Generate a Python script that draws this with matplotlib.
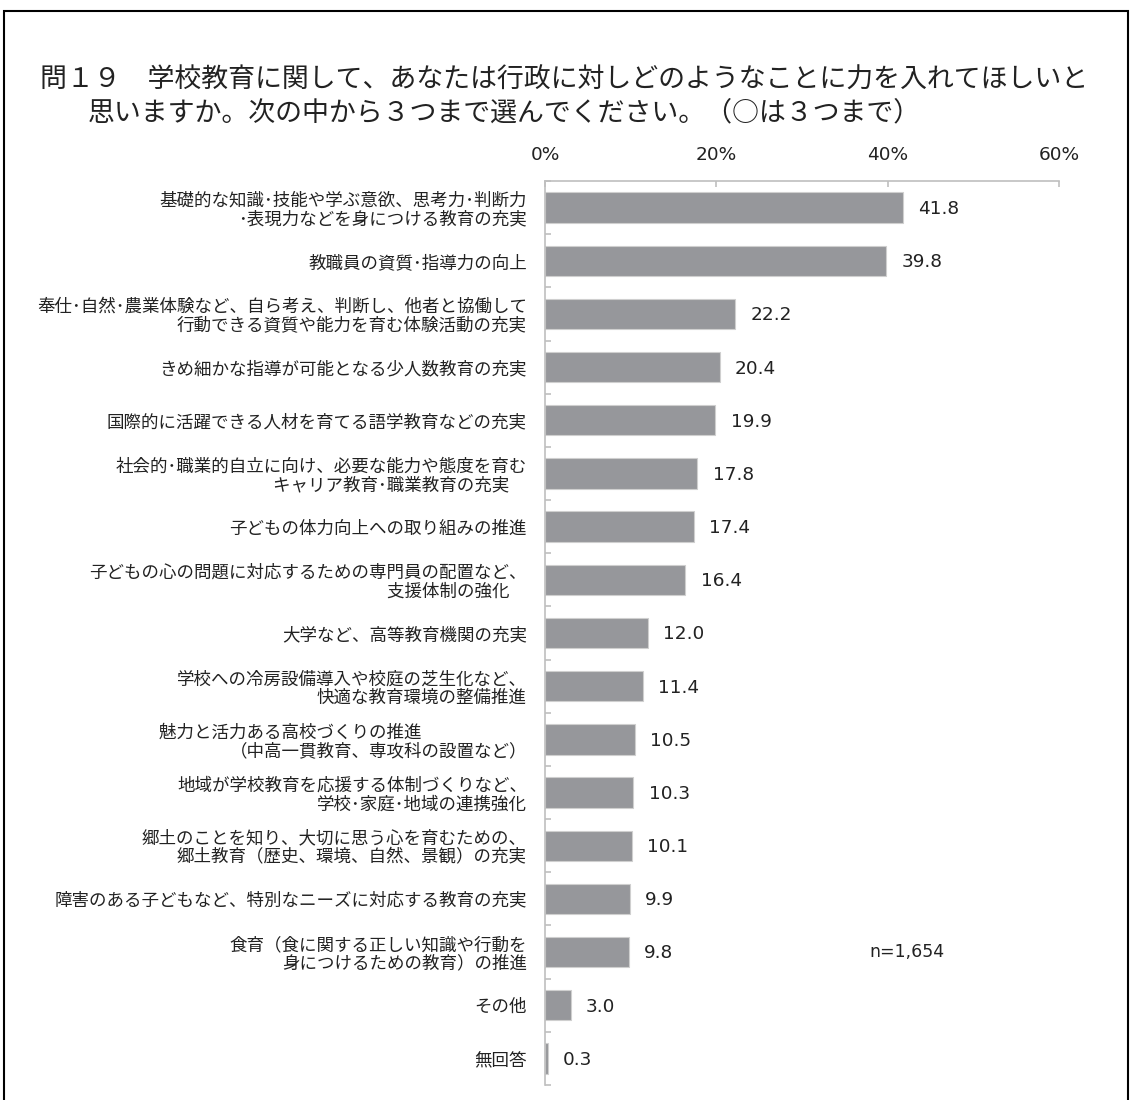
import matplotlib
matplotlib.use('Agg')
import matplotlib.pyplot as plt
import matplotlib.patches as ptc
import numpy as np

plt.rcParams['font.family'] = ['Noto Sans CJK JP', 'DejaVu Sans']

# survey answers, top to bottom
cats = ['基礎的な知識･技能や学ぶ意欲、思考力･判断力\n･表現力などを身につける教育の充実',
        '教職員の資質･指導力の向上',
        '奉仕･自然･農業体験など、自ら考え、判断し、他者と協働して\n行動できる資質や能力を育む体験活動の充実',
        'きめ細かな指導が可能となる少人数教育の充実',
        '国際的に活躍できる人材を育てる語学教育などの充実',
        '社会的･職業的自立に向け、必要な能力や態度を育む\nキャリア教育･職業教育の充実\u3000',
        '子どもの体力向上への取り組みの推進',
        '子どもの心の問題に対応するための専門員の配置など、\n支援体制の強化\u3000',
        '大学など、高等教育機関の充実',
        '学校への冷房設備導入や校庭の芝生化など、\n快適な教育環境の整備推進',
        '魅力と活力ある高校づくりの推進\u3000\u3000\u3000\u3000\u3000\u3000\n（中高一貫教育、専攻科の設置など）',
        '地域が学校教育を応援する体制づくりなど、\n学校･家庭･地域の連携強化',
        '郷土のことを知り、大切に思う心を育むための、\n郷土教育（歴史、環境、自然、景観）の充実',
        '障害のある子どもなど、特別なニーズに対応する教育の充実',
        '食育（食に関する正しい知識や行動を\n身につけるための教育）の推進',
        'その他',
        '無回答']
vals = [41.8, 39.8, 22.2, 20.4, 19.9, 17.8, 17.4, 16.4, 12.0, 11.4, 10.5, 10.3, 10.1, 9.9, 9.8, 3.0, 0.3]
xticks = [0, 20, 40, 60]
xlabs = ['0%', '20%', '40%', '60%']
title1 = '問１９\u3000学校教育に関して、あなたは行政に対しどのようなことに力を入れてほしいと'
title2 = '思いますか。次の中から３つまで選んでください。（○は３つまで）'
note = 'n=1,654'

fig = plt.figure(figsize=[11.32, 11], dpi=100)
ax = fig.add_axes([545/1132, 1-1085/1100, (1059-545)/1132, (1085-181)/1100])

y = np.arange(len(vals))
ax.barh(y, vals, height=0.57, color='#96979B', edgecolor='#CFCFCF', linewidth=0.8)
ax.set_ylim(len(vals)-0.5, -0.5)
ax.set_xlim(0, 60)

# value labels next to bars
for i in range(len(vals)):
    ax.annotate('%.1f' % vals[i], (vals[i], y[i]), xytext=(11, -1), textcoords='offset points',
                ha='left', va='center', fontsize=13.3, color='#222222', family='DejaVu Sans')

ax.text(37.9, 14, note, ha='left', va='center', fontsize=12.5, color='#222222', family='DejaVu Sans')

# axes styling
for s in ['right', 'bottom']:
    ax.spines[s].set_visible(False)
for s in ['top', 'left']:
    ax.spines[s].set_color('#BFBFBF')
    ax.spines[s].set_linewidth(1.2)
ax.xaxis.tick_top()
ax.set_xticks(xticks)
ax.set_xticklabels(xlabs, fontsize=13.3, color='#222222', family='DejaVu Sans')
ax.tick_params(axis='x', direction='in', length=4.5, color='#BFBFBF', width=1.2, pad=12)

ax.set_yticks(y)
ax.set_yticklabels(cats, fontsize=12.6, color='#222222', linespacing=1.05)
ax.tick_params(axis='y', which='major', length=0, pad=13)
ax.set_yticks(np.arange(len(vals)+1)-0.5, minor=True)
ax.tick_params(axis='y', which='minor', direction='in', length=4.5, color='#BFBFBF', width=1.2)

fig.text(40/1132, 1-80/1100, title1, fontsize=19.4, va='center', ha='left', color='#222222')
fig.text(88/1132, 1-113/1100, title2, fontsize=19.4, va='center', ha='left', color='#222222')

# outer frame
fr = ptc.Rectangle((4/1132, -0.05), (1128-4)/1132, 1.05-11/1100, fill=False,
                   edgecolor='black', linewidth=1.5, transform=fig.transFigure)
fig.add_artist(fr)

plt.savefig('out.png', dpi=100)
